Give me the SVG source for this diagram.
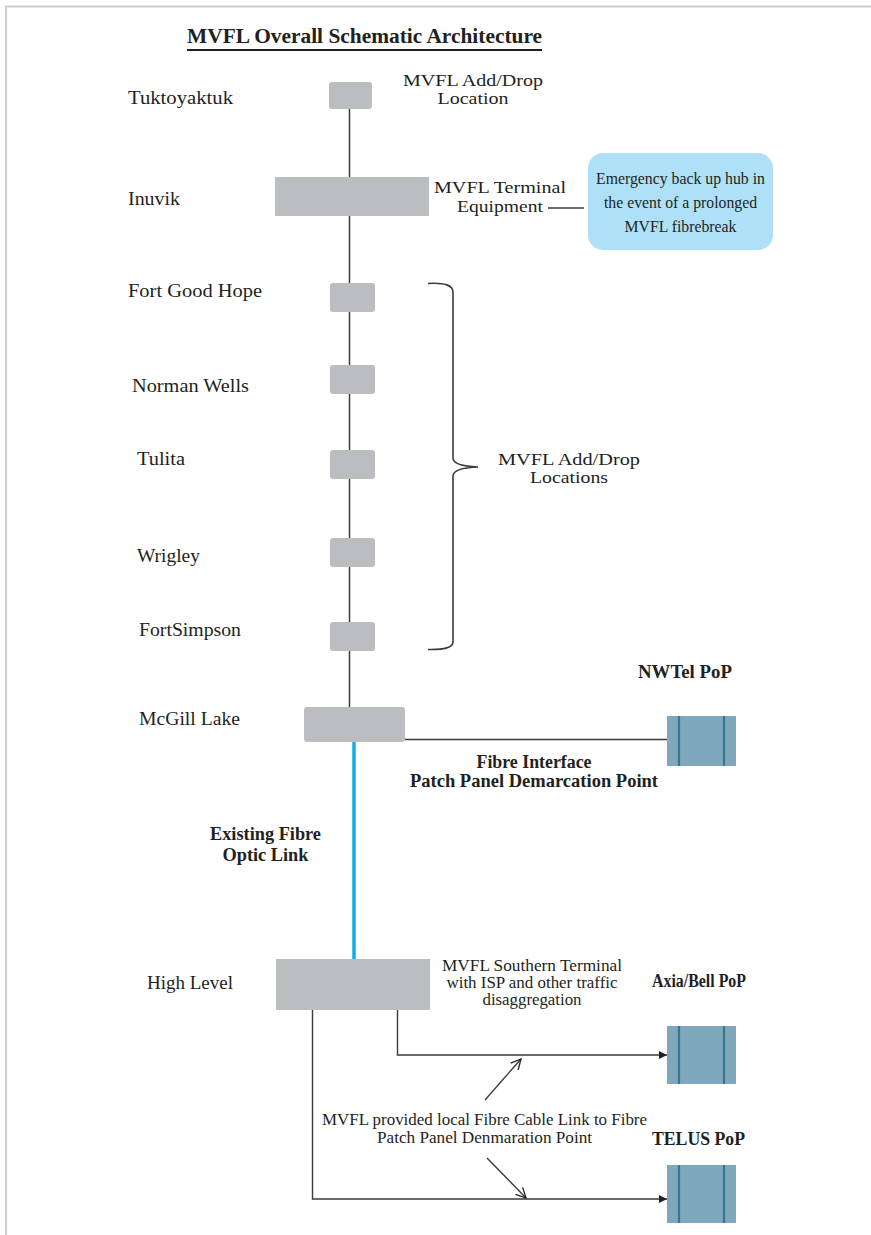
<svg xmlns="http://www.w3.org/2000/svg" width="871" height="1235" viewBox="0 0 871 1235">
<style>
text{font-family:"Liberation Serif","Times New Roman",serif;fill:#231f20}
.lbl{font-size:19px}
.two{font-size:17px}
.note{font-size:16px}
.b{font-size:18px;font-weight:bold}
.blue{font-size:17px}
.box{fill:#bcbdc0}
.pop{fill:#7fa8bd}
.popl{stroke:#3b7690;stroke-width:2.2}
.wire{stroke:#3a3a3a;stroke-width:1.4;fill:none}
</style>
<defs>
<marker id="ah" viewBox="0 0 10 10" refX="10" refY="5" markerWidth="8" markerHeight="8" markerUnits="userSpaceOnUse" orient="auto">
<path d="M0,0 L10,5 L0,10 z" fill="#231f20"/>
</marker>
<marker id="oa" viewBox="0 0 12 12" refX="11" refY="6" markerWidth="12" markerHeight="12" markerUnits="userSpaceOnUse" orient="auto">
<path d="M1,1 L11,6 L1,11" fill="none" stroke="#231f20" stroke-width="1.3"/>
</marker>
</defs>
<rect x="0" y="0" width="871" height="1235" fill="#ffffff"/>
<path d="M6,1235 V6.5 H871" fill="none" stroke="#cccccc" stroke-width="2"/>

<g id="title">
<text x="187" y="43" style="font-size:20px;font-weight:bold" textLength="355" lengthAdjust="spacingAndGlyphs">MVFL Overall Schematic Architecture</text>
<line x1="187" y1="50" x2="542" y2="50" stroke="#231f20" stroke-width="2.2"/>
</g>

<g id="connectors">
<line x1="349.5" y1="109" x2="349.5" y2="707" stroke="#3a3a3a" stroke-width="1.5"/>
<line x1="354" y1="742" x2="354" y2="959" stroke="#13aee8" stroke-width="3.5"/>
<line x1="405" y1="739.5" x2="667" y2="739.5" class="wire"/>
<line x1="548" y1="208" x2="584" y2="208" class="wire"/>
<path d="M397.5,1010 V1055 H667" class="wire" marker-end="url(#ah)"/>
<path d="M312.5,1010 V1199 H667" class="wire" marker-end="url(#ah)"/>
<line x1="485" y1="1100" x2="521" y2="1059" class="wire" marker-end="url(#oa)"/>
<line x1="487" y1="1158" x2="526" y2="1198" class="wire" marker-end="url(#oa)"/>
<path d="M428,283.5 Q453,282 453,292 V458 Q453,466 478,467 Q453,468 453,476 V642 Q453,650 428,649.5" fill="none" stroke="#3a3a3a" stroke-width="1.6"/>
</g>

<g id="tuktoyaktuk">
<rect x="329" y="82" width="43" height="27" rx="3" class="box"/>
<text x="128" y="104" class="lbl" textLength="105" lengthAdjust="spacingAndGlyphs">Tuktoyaktuk</text>
<text x="473" y="86" class="two" text-anchor="middle" textLength="140" lengthAdjust="spacingAndGlyphs">MVFL Add/Drop</text>
<text x="473" y="104" class="two" text-anchor="middle" textLength="71" lengthAdjust="spacingAndGlyphs">Location</text>
</g>

<g id="inuvik">
<rect x="275" y="177" width="154" height="39" class="box"/>
<text x="128" y="205" class="lbl" textLength="52" lengthAdjust="spacingAndGlyphs">Inuvik</text>
<text x="500" y="193" class="two" text-anchor="middle" textLength="132" lengthAdjust="spacingAndGlyphs">MVFL Terminal</text>
<text x="500" y="212" class="two" text-anchor="middle" textLength="86" lengthAdjust="spacingAndGlyphs">Equipment</text>
</g>

<g id="emergency-hub">
<rect x="588" y="153" width="185" height="97" rx="15" fill="#aee1f8"/>
<text x="680.5" y="184" class="blue" text-anchor="middle" textLength="169" lengthAdjust="spacingAndGlyphs">Emergency back up hub in</text>
<text x="680.5" y="208" class="blue" text-anchor="middle" textLength="153" lengthAdjust="spacingAndGlyphs">the event of a prolonged</text>
<text x="680.5" y="232" class="blue" text-anchor="middle" textLength="112" lengthAdjust="spacingAndGlyphs">MVFL fibrebreak</text>
</g>

<g id="fort-good-hope">
<rect x="330" y="283" width="45" height="29" rx="3" class="box"/>
<text x="128" y="297" class="lbl" textLength="134" lengthAdjust="spacingAndGlyphs">Fort Good Hope</text>
</g>
<g id="norman-wells">
<rect x="330" y="365" width="45" height="29" rx="3" class="box"/>
<text x="132" y="392" class="lbl" textLength="117" lengthAdjust="spacingAndGlyphs">Norman Wells</text>
</g>
<g id="tulita">
<rect x="330" y="450" width="45" height="29" rx="3" class="box"/>
<text x="137" y="465" class="lbl" textLength="48" lengthAdjust="spacingAndGlyphs">Tulita</text>
</g>
<g id="wrigley">
<rect x="330" y="538" width="45" height="29" rx="3" class="box"/>
<text x="137" y="562" class="lbl" textLength="63" lengthAdjust="spacingAndGlyphs">Wrigley</text>
</g>
<g id="fort-simpson">
<rect x="330" y="622" width="45" height="29" rx="3" class="box"/>
<text x="139" y="636" class="lbl" textLength="102" lengthAdjust="spacingAndGlyphs">FortSimpson</text>
</g>
<g id="add-drop-locations">
<text x="569" y="465" class="two" text-anchor="middle" textLength="142" lengthAdjust="spacingAndGlyphs">MVFL Add/Drop</text>
<text x="569" y="483" class="two" text-anchor="middle" textLength="78" lengthAdjust="spacingAndGlyphs">Locations</text>
</g>

<g id="mcgill-lake">
<rect x="304" y="707" width="101" height="35" rx="3" class="box"/>
<text x="139" y="725" class="lbl" textLength="101" lengthAdjust="spacingAndGlyphs">McGill Lake</text>
</g>

<g id="nwtel-pop">
<rect x="667" y="716" width="69" height="50" class="pop"/>
<line x1="679" y1="716" x2="679" y2="766" class="popl"/>
<line x1="724" y1="716" x2="724" y2="766" class="popl"/>
<text x="638" y="678" class="b" textLength="94" lengthAdjust="spacingAndGlyphs">NWTel PoP</text>
</g>
<g id="fibre-interface-label">
<text x="534" y="768" class="b" text-anchor="middle" textLength="115" lengthAdjust="spacingAndGlyphs">Fibre Interface</text>
<text x="534" y="787" class="b" text-anchor="middle" textLength="248" lengthAdjust="spacingAndGlyphs">Patch Panel Demarcation Point</text>
</g>
<g id="existing-link-label">
<text x="265.5" y="840" class="b" text-anchor="middle" textLength="111" lengthAdjust="spacingAndGlyphs">Existing Fibre</text>
<text x="265.5" y="861" class="b" text-anchor="middle" textLength="86" lengthAdjust="spacingAndGlyphs">Optic Link</text>
</g>

<g id="high-level">
<rect x="276" y="959" width="154" height="51" class="box"/>
<text x="147" y="989" class="lbl" textLength="86" lengthAdjust="spacingAndGlyphs">High Level</text>
<text x="532" y="971" class="note" text-anchor="middle" textLength="180" lengthAdjust="spacingAndGlyphs">MVFL Southern Terminal</text>
<text x="532" y="988" class="note" text-anchor="middle" textLength="171" lengthAdjust="spacingAndGlyphs">with ISP and other traffic</text>
<text x="532" y="1005" class="note" text-anchor="middle" textLength="99" lengthAdjust="spacingAndGlyphs">disaggregation</text>
</g>

<g id="axia-bell-pop">
<rect x="667" y="1026" width="69" height="58" class="pop"/>
<line x1="679" y1="1026" x2="679" y2="1084" class="popl"/>
<line x1="724" y1="1026" x2="724" y2="1084" class="popl"/>
<text x="652" y="987" class="b" textLength="94" lengthAdjust="spacingAndGlyphs">Axia/Bell PoP</text>
</g>

<g id="local-link-label">
<text x="484.5" y="1125" class="note" text-anchor="middle" textLength="325" lengthAdjust="spacingAndGlyphs">MVFL provided local Fibre Cable Link to Fibre</text>
<text x="484.5" y="1143" class="note" text-anchor="middle" textLength="215" lengthAdjust="spacingAndGlyphs">Patch Panel Denmaration Point</text>
</g>

<g id="telus-pop">
<rect x="667" y="1165" width="69" height="58" class="pop"/>
<line x1="679" y1="1165" x2="679" y2="1223" class="popl"/>
<line x1="724" y1="1165" x2="724" y2="1223" class="popl"/>
<text x="652" y="1145" class="b" textLength="93" lengthAdjust="spacingAndGlyphs">TELUS PoP</text>
</g>
</svg>
